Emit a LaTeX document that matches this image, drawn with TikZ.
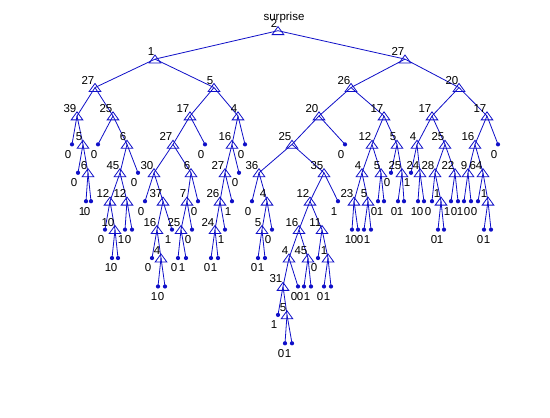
\documentclass[tikz,border=0pt]{standalone}
\usepackage{fontspec}
\setmainfont{Liberation Sans}
\definecolor{treeblue}{RGB}{15,15,200}
\tikzset{
  branch/.style={draw=treeblue, line width=0.8pt},
  dectri/.style={draw=treeblue, line width=0.8pt, line join=miter},
  leafdot/.style={circle, fill=treeblue, inner sep=0pt, minimum size=4.2pt},
  txt/.style={inner sep=0pt, font=\fontsize{11.5}{12}\selectfont},
  declab/.style={txt, anchor=base east, xshift=-0.5pt, yshift=3.5pt},
  leaflab/.style={txt, anchor=base east, xshift=-0.5pt, yshift=-13.8pt},
}
% decision node: name, x, attribute (root level)
\newcommand\rootnode[3]{%
  \coordinate (#1) at (#2,30.7);
  \draw[dectri,shift={(#1)}] (-5.8,3.9) -- (0,-4.1) -- (5.8,3.9) -- cycle;
  \node[declab] (#1-t) at (#1) {#3};}
% decision node: name, parent, x, level, attribute
\newcommand\decnode[5]{%
  \coordinate (#1) at (#3,{30.7+28.42*#4});
  \draw[branch] (#2) -- (#1);
  \draw[dectri,shift={(#1)}] (-5.8,3.9) -- (0,-4.1) -- (5.8,3.9) -- cycle;
  \node[declab] (#1-t) at (#1) {#5};}
% leaf: name, parent, x, level, class
\newcommand\leafnode[5]{%
  \node[leafdot] (#1) at (#3,{30.7+28.42*#4}) {};
  \draw[branch] (#2) -- (#1.center);
  \node[leaflab] (#1-t) at (#1.center) {#5};}
\begin{document}
\begin{tikzpicture}[x=1pt,y=-1pt]
\fill[white] (0,0) rectangle (550,418);
\useasboundingbox (0,0) rectangle (550,418);

\node[txt, anchor=base] (title) at (284,20) {surprise};

\rootnode{r}{278}{2}
% level 1
\decnode{r0}{r}{155}{1}{1}
\decnode{r1}{r}{405}{1}{27}
% level 2
\decnode{r00}{r0}{95}{2}{27}
\decnode{r01}{r0}{214}{2}{5}
\decnode{r10}{r1}{351}{2}{26}
\decnode{r11}{r1}{459}{2}{20}
% level 3
\decnode{r000}{r00}{77}{3}{39}
\decnode{r001}{r00}{113}{3}{25}
\decnode{r010}{r01}{190}{3}{17}
\decnode{r011}{r01}{238}{3}{4}
\decnode{r100}{r10}{319}{3}{20}
\decnode{r101}{r10}{384}{3}{17}
\decnode{r110}{r11}{432}{3}{17}
\decnode{r111}{r11}{487}{3}{17}
% level 4
\leafnode{r0000}{r000}{72}{4}{0}
\decnode{r0001}{r000}{83}{4}{5}
\leafnode{r0010}{r001}{98}{4}{0}
\decnode{r0011}{r001}{127}{4}{6}
\decnode{r0100}{r010}{173}{4}{27}
\leafnode{r0101}{r010}{205}{4}{0}
\decnode{r0110}{r011}{232}{4}{16}
\leafnode{r0111}{r011}{245}{4}{0}
\decnode{r1000}{r100}{292}{4}{25}
\leafnode{r1001}{r100}{345}{4}{0}
\decnode{r1010}{r101}{372}{4}{12}
\decnode{r1011}{r101}{397}{4}{5}
\decnode{r1100}{r110}{417}{4}{4}
\decnode{r1101}{r110}{445}{4}{25}
\decnode{r1110}{r111}{475}{4}{16}
\leafnode{r1111}{r111}{498}{4}{0}
% level 5
\leafnode{r00010}{r0001}{78}{5}{0}
\decnode{r00011}{r0001}{88}{5}{6}
\decnode{r00110}{r0011}{120}{5}{45}
\leafnode{r00111}{r0011}{138}{5}{0}
\decnode{r01000}{r0100}{154}{5}{30}
\decnode{r01001}{r0100}{191}{5}{6}
\decnode{r01100}{r0110}{225}{5}{27}
\leafnode{r01101}{r0110}{239}{5}{0}
\decnode{r10000}{r1000}{259}{5}{36}
\decnode{r10001}{r1000}{324}{5}{35}
\decnode{r10100}{r1010}{362}{5}{4}
\decnode{r10101}{r1010}{381}{5}{5}
\leafnode{r10110}{r1011}{391}{5}{0}
\decnode{r10111}{r1011}{402}{5}{25}
\leafnode{r11000}{r1100}{411}{5}{1}
\decnode{r11001}{r1100}{420}{5}{24}
\decnode{r11010}{r1101}{435}{5}{28}
\decnode{r11011}{r1101}{455}{5}{22}
\decnode{r11100}{r1110}{468}{5}{9}
\decnode{r11101}{r1110}{483}{5}{64}
% level 6
\leafnode{r000110}{r00011}{86}{6}{1}
\leafnode{r000111}{r00011}{91}{6}{0}
\decnode{r001100}{r00110}{110}{6}{12}
\decnode{r001101}{r00110}{127}{6}{12}
\leafnode{r010000}{r01000}{145}{6}{0}
\decnode{r010001}{r01000}{163}{6}{37}
\decnode{r010010}{r01001}{187}{6}{7}
\leafnode{r010011}{r01001}{198}{6}{0}
\decnode{r011000}{r01100}{220}{6}{26}
\leafnode{r011001}{r01100}{232}{6}{1}
\leafnode{r100000}{r10000}{252}{6}{0}
\decnode{r100001}{r10000}{267}{6}{4}
\decnode{r100010}{r10001}{310}{6}{12}
\leafnode{r100011}{r10001}{338}{6}{1}
\decnode{r101000}{r10100}{354}{6}{23}
\decnode{r101001}{r10100}{368}{6}{5}
\leafnode{r101010}{r10101}{378}{6}{0}
\leafnode{r101011}{r10101}{384}{6}{1}
\leafnode{r101110}{r10111}{398}{6}{0}
\leafnode{r101111}{r10111}{404}{6}{1}
\leafnode{r110010}{r11001}{418}{6}{1}
\leafnode{r110011}{r11001}{424}{6}{0}
\leafnode{r110100}{r11010}{432}{6}{0}
\decnode{r110101}{r11010}{441}{6}{1}
\leafnode{r110110}{r11011}{451}{6}{1}
\leafnode{r110111}{r11011}{458}{6}{0}
\leafnode{r111000}{r11100}{464}{6}{1}
\leafnode{r111001}{r11100}{471}{6}{0}
\leafnode{r111010}{r11101}{478}{6}{0}
\decnode{r111011}{r11101}{488}{6}{1}
% level 7
\leafnode{r0011000}{r001100}{105}{7}{0}
\decnode{r0011001}{r001100}{115}{7}{10}
\leafnode{r0011010}{r001101}{125}{7}{1}
\leafnode{r0011011}{r001101}{132}{7}{0}
\decnode{r0100010}{r010001}{157}{7}{16}
\leafnode{r0100011}{r010001}{172}{7}{1}
\decnode{r0100100}{r010010}{181}{7}{25}
\leafnode{r0100101}{r010010}{192}{7}{0}
\decnode{r0110000}{r011000}{215}{7}{24}
\leafnode{r0110001}{r011000}{225}{7}{1}
\decnode{r1000010}{r100001}{262}{7}{5}
\leafnode{r1000011}{r100001}{272}{7}{0}
\decnode{r1000100}{r100010}{299}{7}{16}
\decnode{r1000101}{r100010}{322}{7}{11}
\leafnode{r1010000}{r101000}{352}{7}{1}
\leafnode{r1010001}{r101000}{358}{7}{0}
\leafnode{r1010010}{r101001}{364}{7}{0}
\leafnode{r1010011}{r101001}{371}{7}{1}
\leafnode{r1101010}{r110101}{438}{7}{0}
\leafnode{r1101011}{r110101}{444}{7}{1}
\leafnode{r1110110}{r111011}{484}{7}{0}
\leafnode{r1110111}{r111011}{491}{7}{1}
% level 8
\leafnode{r00110010}{r0011001}{112}{8}{1}
\leafnode{r00110011}{r0011001}{118}{8}{0}
\leafnode{r01000100}{r0100010}{152}{8}{0}
\decnode{r01000101}{r0100010}{161}{8}{4}
\leafnode{r01001000}{r0100100}{178}{8}{0}
\leafnode{r01001001}{r0100100}{186}{8}{1}
\leafnode{r01100000}{r0110000}{211}{8}{0}
\leafnode{r01100001}{r0110000}{218}{8}{1}
\leafnode{r10000100}{r1000010}{258}{8}{0}
\leafnode{r10000101}{r1000010}{265}{8}{1}
\decnode{r10001000}{r1000100}{289}{8}{4}
\decnode{r10001001}{r1000100}{308}{8}{45}
\leafnode{r10001010}{r1000101}{318}{8}{0}
\decnode{r10001011}{r1000101}{328}{8}{1}
% level 9
\leafnode{r010001010}{r01000101}{158}{9}{1}
\leafnode{r010001011}{r01000101}{165}{9}{0}
\decnode{r100010000}{r10001000}{283}{9}{31}
\leafnode{r100010001}{r10001000}{298}{9}{0}
\leafnode{r100010010}{r10001001}{304}{9}{0}
\leafnode{r100010011}{r10001001}{311}{9}{1}
\leafnode{r100010110}{r10001011}{324}{9}{0}
\leafnode{r100010111}{r10001011}{331}{9}{1}
% level 10
\leafnode{r1000100000}{r100010000}{278}{10}{1}
\decnode{r1000100001}{r100010000}{287}{10}{5}
% level 11
\leafnode{r10001000010}{r1000100001}{285}{11}{0}
\leafnode{r10001000011}{r1000100001}{292}{11}{1}
\end{tikzpicture}
\end{document}
